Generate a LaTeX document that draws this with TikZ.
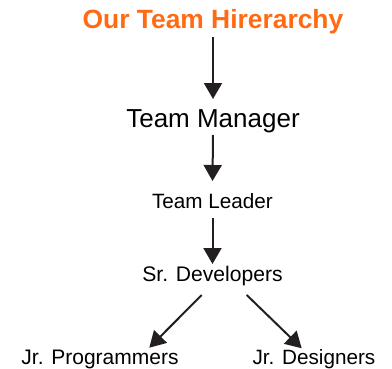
\documentclass[tikz,border=0pt]{standalone}
\usepackage{fontspec}
\setmainfont{Liberation Sans}
\usetikzlibrary{arrows.meta}
\definecolor{titleorange}{HTML}{FF6A13}
\definecolor{ink}{HTML}{231F20}
\tikzset{
  lbl/.style={inner sep=0pt, anchor=base, text=black},
  arr/.style={draw=ink, line width=2bp, -{Triangle[width=18bp,length=16bp]}, fill=ink},
}
\begin{document}
\begin{tikzpicture}[x=1bp,y=-1bp]
\useasboundingbox (0,0) rectangle (392,369);
\node[lbl, text=titleorange, font=\fontsize{26.4bp}{28bp}\selectfont\bfseries] (title) at (213,28) {Our Team Hirerarchy};
\node[lbl, font=\fontsize{26bp}{28bp}\selectfont] (mgr) at (213,127) {Team Manager};
\node[lbl, font=\fontsize{20.7bp}{24bp}\selectfont] (lead) at (212.5,208) {Team Leader};
\node[lbl, font=\fontsize{21.1bp}{24bp}\selectfont] (sr) at (212.5,281.7) {Sr. Developers};
\node[lbl, font=\fontsize{21bp}{24bp}\selectfont] (prog) at (100,364) {Jr. Programmers};
\node[lbl, font=\fontsize{20.7bp}{24bp}\selectfont] (des) at (314,364) {Jr. Designers};
\draw[arr] ([yshift=-9bp]title.base) -- ([yshift=28bp]mgr.base);
\draw[arr] ([yshift=-8bp]mgr.base) -- ([yshift=27bp]lead.base);
\draw[arr] ([yshift=-10bp]lead.base) -- ([yshift=17.7bp]sr.base);
\draw[arr] ([xshift=-10.8bp,yshift=-13.3bp]sr.base) -- ([xshift=49.3bp,yshift=16.3bp]prog.base);
\draw[arr] ([xshift=34.2bp,yshift=-13.3bp]sr.base) -- ([xshift=-12.3bp,yshift=15.7bp]des.base);
\end{tikzpicture}
\end{document}
